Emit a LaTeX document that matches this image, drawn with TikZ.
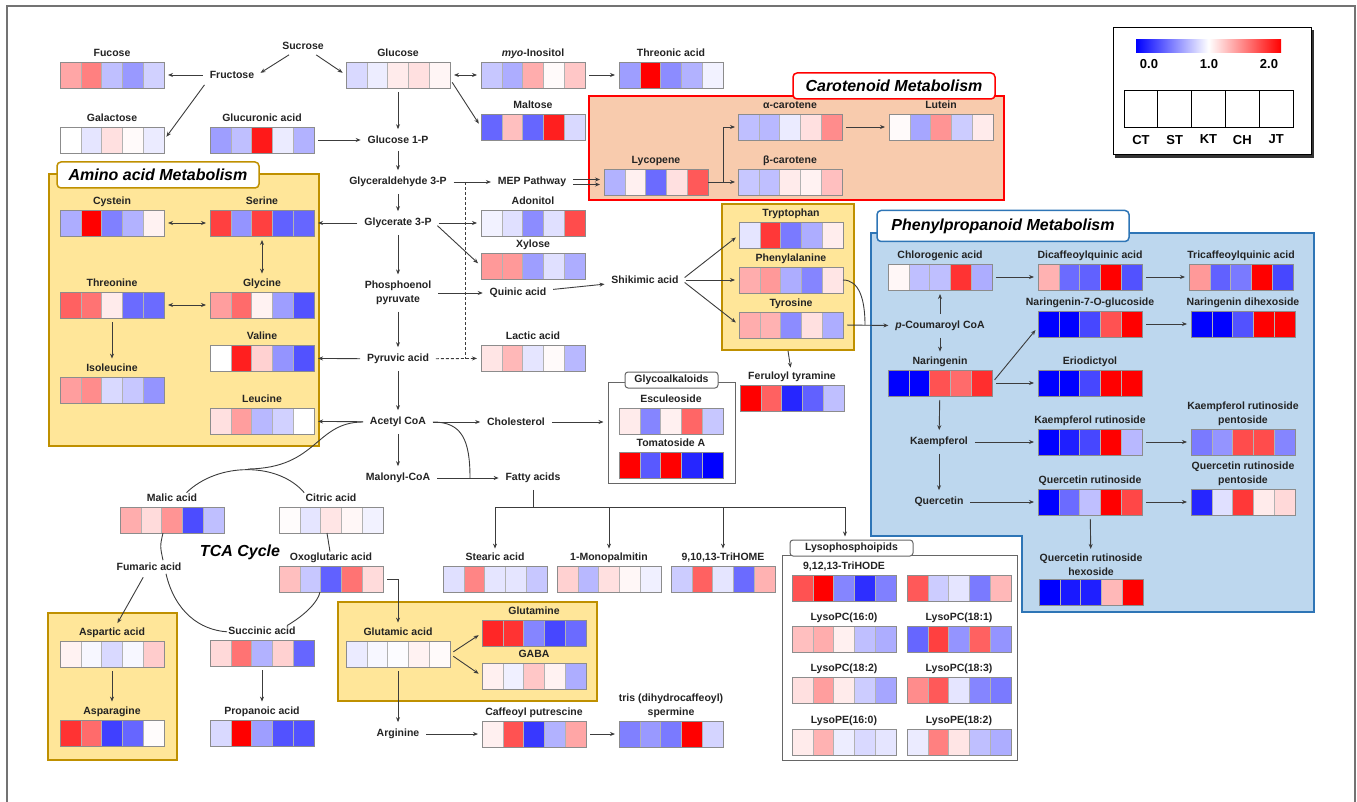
\documentclass[tikz,border=0pt]{standalone}
\usepackage{fontspec}
\setmainfont{Liberation Sans}
\usetikzlibrary{arrows.meta,positioning}

\definecolor{aagold}{RGB}{191,144,0}
\definecolor{aafill}{RGB}{255,230,153}
\definecolor{carfill}{RGB}{248,203,173}
\definecolor{phfill}{RGB}{189,215,238}
\definecolor{phline}{RGB}{46,117,182}
\definecolor{linegray}{RGB}{60,60,60}
\definecolor{txtgray}{RGB}{35,35,35}

\tikzset{
  hmbox/.style={rectangle, minimum width=104pt, minimum height=26pt, inner sep=0pt, outer sep=0pt},
  lbl/.style={font=\fontsize{10.5}{13}\selectfont\bfseries, text=txtgray, inner sep=1pt, text height=7.5pt, text depth=2pt},
  lbl2/.style={font=\fontsize{10.5}{13.5}\selectfont\bfseries, text=txtgray, inner sep=1pt, align=center},
  txt/.style={font=\fontsize{10.5}{13.5}\selectfont\bfseries, text=txtgray, inner sep=2.5pt, align=center},
  ar/.style={->, draw=linegray, shorten >=4pt, shorten <=4pt},
  br/.style={->, draw=linegray, shorten >=3pt},
  ln/.style={draw=linegray},
  aabox/.style={draw=aagold, fill=aafill, line width=1.6pt, inner sep=0pt},
  grbox/.style={draw=black!60, fill=white, line width=1pt, inner sep=0pt},
  tab/.style={fill=white, rounded corners=4pt, line width=1.5pt, minimum height=26pt, inner sep=2pt,
    text=black, font=\fontsize{16}{18}\selectfont\bfseries\itshape},
  grtab/.style={draw=black!60, fill=white, rounded corners=3pt, line width=1pt, minimum height=16pt,
    inner sep=1pt, text=txtgray, font=\fontsize{10.5}{12}\selectfont\bfseries},
  legtxt/.style={font=\fontsize{13}{15}\selectfont\bfseries, inner sep=1pt},
  legcell/.style={draw=black, line width=1pt, fill=white, minimum width=33.8pt, minimum height=37pt, inner sep=0pt}
}

% heat map of five samples: [label style]{name}{centre}{label}{colours}
\newcommand{\hm}[5][lbl]{%
  \node[hmbox] (#2) at (#3) {};
  \foreach \cl [count=\i from 0] in {#5}
    \filldraw[fill=\cl, draw=black!30, line width=0.6pt] ([xshift=\i*20.8pt]#2.south west) rectangle ++(20.8pt,26pt);
  \draw[black!45, line width=0.6pt] (#2.south west) rectangle (#2.north east);
  \node[#1, above=2pt of #2] (#2-t) {#4};
}

\begin{document}
\begin{tikzpicture}[x=1pt, y=-1pt, >={Stealth[length=5pt,width=4pt]}, line width=0.9pt]
  \useasboundingbox (0,0) rectangle (1357,802);
  \draw[black!55, line width=1.4pt] (7,803) -- (7,6) -- (1355,6) -- (1355,803);

  % group boxes
  \node[aabox, minimum width=270pt, minimum height=272pt] (amino) at (184,310) {};
  \node[draw=red, fill=carfill, line width=1.6pt, inner sep=0pt, minimum width=415pt, minimum height=104pt] (carot) at (796.5,148) {};
  \node[aabox, minimum width=132pt, minimum height=146pt] (arom) at (788,277) {};
  \node[aabox, minimum width=129pt, minimum height=147pt] (aspbox) at (112.5,686.5) {};
  \node[aabox, minimum width=259pt, minimum height=99pt] (glubox) at (467.5,651.5) {};
  \draw[draw=phline, fill=phfill, line width=1.6pt] (871,233) -- (1314,233) -- (1314,612)
    -- (1022,612) -- (1022,536) -- (871,536) -- cycle;
  \node[grbox, minimum width=127pt, minimum height=101pt] (glyco) at (671.5,432.5) {};
  \node[grbox, minimum width=235pt, minimum height=205pt] (lyso) at (899.5,657.5) {};

  \node[tab, draw=aagold, minimum width=202pt] (amino-t) at (158,175) {Amino acid Metabolism};
  \node[tab, draw=red, minimum width=202pt] (carot-t) at (894,86) {Carotenoid Metabolism};
  \node[tab, draw=phline, minimum width=252pt, minimum height=31pt] (phen-t) at (1003,226) {Phenylpropanoid Metabolism};
  \node[grtab, minimum width=93pt] (glyco-t) at (671.5,380) {Glycoalkaloids};
  \node[grtab, minimum width=123pt] (lyso-t) at (851.5,548) {Lysophosphoipids};
  \node[font=\fontsize{16}{18}\selectfont\bfseries\itshape, text=black] (tca) at (240,552) {TCA Cycle};

  % legend
  \fill[black!80] (1115,30) rectangle (1314,158);
  \node[draw=black, fill=white, line width=1pt, minimum width=198pt, minimum height=127pt, inner sep=0pt] (leg) at (1212,91.5) {};
  \shade[left color=blue, right color=red, middle color=white] (1136,40) rectangle (1281,53);
  \node[legtxt] (v0) at (1149,64) {0.0};
  \node[legtxt] (v1) at (1209,64) {1.0};
  \node[legtxt] (v2) at (1269,64) {2.0};
  \foreach \s [count=\i] in {CT,ST,KT,CH,JT} {
    \node[legcell] (k\i) at ({1124+33.8*\i-16.9},109.5) {};
    \node[legtxt, below=5pt of k\i] (k\i-t) {\s};
  }

  % sugars
  \node[txt] (suc) at (303,46) {Sucrose};
  \node[txt] (fru) at (232,75) {Fructose};
  \hm{fuc}{112,75}{Fucose}{red!35,red!50,blue!25,blue!40,blue!18}
  \hm{gal}{112,140}{Galactose}{white,blue!10,red!12,red!2,blue!8}
  \hm{glr}{262,140}{Glucuronic acid}{blue!38,blue!25,red!90,blue!8,blue!30}
  \hm{glc}{398,75}{Glucose}{blue!15,blue!7,red!8,red!12,red!4}
  \hm{ino}{533,75}{\textit{myo}-Inositol}{blue!22,blue!32,red!32,red!2,red!22}
  \hm{thr}{671,75}{Threonic acid}{blue!38,red!100,blue!45,blue!30,blue!5}
  \hm{mlt}{533,127}{Maltose}{blue!60,red!25,blue!60,red!88,blue!15}

  % main column
  \node[txt] (g1p) at (398,140) {Glucose 1-P};
  \node[txt] (gap) at (398,182) {Glyceraldehyde 3-P};
  \node[txt] (g3p) at (398,223) {Glycerate 3-P};
  \node[txt] (pep) at (398,293) {Phosphoenol\\pyruvate};
  \node[txt] (pyr) at (398,359) {Pyruvic acid};
  \node[txt] (aco) at (398,422) {Acetyl CoA};
  \node[txt] (mal) at (398,478) {Malonyl-CoA};
  \node[txt] (mep) at (532,182) {MEP Pathway};
  \node[txt] (qui) at (518,293) {Quinic acid};
  \node[txt] (shi) at (645,280) {Shikimic acid};
  \node[txt] (cho) at (516,422) {Cholesterol};
  \node[txt] (fat) at (533,478) {Fatty acids};
  \hm{ado}{533,223}{Adonitol}{blue!5,blue!12,blue!45,blue!12,red!70}
  \hm{xyl}{533,266}{Xylose}{red!40,red!40,blue!38,blue!12,blue!32}
  \hm{lac}{533,358}{Lactic acid}{red!10,red!28,blue!10,red!2,blue!28}

  % carotenoids
  \hm{lyc}{656,182}{Lycopene}{blue!30,red!6,blue!58,red!12,red!65}
  \hm{acr}{790,127}{α-carotene}{blue!25,blue!28,blue!8,red!12,red!45}
  \hm{bcr}{790,182}{β-carotene}{blue!22,blue!25,red!8,red!5,red!25}
  \hm{lut}{941,127}{Lutein}{red!2,blue!35,red!42,blue!20,red!8}

  % amino acids
  \hm{cys}{112,223}{Cystein}{blue!32,red!100,blue!50,blue!30,red!5}
  \hm{ser}{262,223}{Serine}{red!75,blue!42,red!75,blue!62,blue!60}
  \hm{thn}{112,305}{Threonine}{red!62,red!55,red!8,blue!58,blue!58}
  \hm{gly}{262,305}{Glycine}{red!38,red!58,red!5,blue!38,blue!68}
  \hm{ile}{112,390}{Isoleucine}{red!38,red!45,blue!15,blue!22,blue!42}
  \hm{val}{262,358}{Valine}{white,red!88,red!18,blue!42,blue!68}
  \hm{leu}{262,421}{Leucine}{red!12,red!38,blue!28,blue!18,white}

  % TCA cycle
  \hm{mlc}{172,520}{Malic acid}{red!32,red!14,red!42,blue!70,blue!25}
  \hm{cit}{331,520}{Citric acid}{red!1,blue!10,red!10,red!3,blue!5}
  \hm{oxo}{331,579}{Oxoglutaric acid}{red!25,blue!22,blue!62,red!55,red!14}
  \hm{sca}{262,653}{Succinic acid}{red!15,red!55,blue!30,red!18,blue!60}
  \hm{pro}{262,733}{Propanoic acid}{blue!15,red!100,blue!38,blue!68,blue!68}
  \node[txt] (fum) at (149,567) {Fumaric acid};
  \hm{asp}{112,654}{Aspartic acid}{red!5,blue!3,blue!15,blue!3,red!20}
  \hm{asn}{112,733}{Asparagine}{red!80,red!58,blue!75,blue!60,red!1}
  \hm{glu}{398,654}{Glutamic acid}{blue!8,blue!3,blue!1,red!5,red!2}
  \hm{gln}{534,633}{Glutamine}{red!85,red!80,blue!48,blue!72,blue!58}
  \hm{gab}{534,676}{GABA}{red!6,blue!6,red!22,red!5,blue!32}
  \node[txt] (arg) at (398,734) {Arginine};
  \hm{caf}{534,734}{Caffeoyl putrescine}{red!6,red!68,blue!78,blue!30,red!35}
  \hm[lbl2]{tri}{671,734}{tris (dihydrocaffeoyl)\\spermine}{blue!50,blue!40,blue!52,red!100,blue!17}

  % lipids and alkaloids
  \hm{ste}{495,579}{Stearic acid}{blue!12,red!48,blue!10,blue!10,blue!22}
  \hm{mpa}{609,579}{1-Monopalmitin}{red!18,blue!28,red!12,red!3,blue!6}
  \hm{trh}{723,579}{9,10,13-TriHOME}{blue!20,red!62,blue!10,blue!58,red!30}
  \hm{esc}{671,421}{Esculeoside}{red!8,blue!48,red!6,red!60,blue!22}
  \hm{tom}{671,465}{Tomatoside A}{red!100,blue!65,red!100,blue!85,blue!100}
  \hm{lp1}{844,588}{9,12,13-TriHODE}{red!68,red!100,blue!48,blue!82,blue!50}
  \hm{lp2}{959,588}{}{red!65,blue!20,blue!10,blue!52,red!28}
  \hm{lp3}{844,639}{LysoPC(16:0)}{red!25,red!32,red!6,blue!25,blue!32}
  \hm{lp4}{959,639}{LysoPC(18:1)}{blue!60,red!75,blue!42,red!62,blue!42}
  \hm{lp5}{844,690}{LysoPC(18:2)}{red!12,red!38,red!8,blue!20,blue!35}
  \hm{lp6}{959,690}{LysoPC(18:3)}{red!45,red!65,blue!10,blue!48,blue!52}
  \hm{lp7}{844,742}{LysoPE(16:0)}{red!8,red!30,blue!7,blue!15,blue!10}
  \hm{lp8}{959,742}{LysoPE(18:2)}{blue!8,red!50,red!10,blue!25,blue!32}

  % aromatic amino acids
  \hm{trp}{791,235}{Tryptophan}{blue!10,red!78,blue!52,blue!32,red!7}
  \hm{phe}{791,280}{Phenylalanine}{red!32,red!40,blue!32,blue!48,red!10}
  \hm{tyr}{791,325}{Tyrosine}{red!32,red!30,blue!45,red!12,blue!32}
  \hm{fer}{792,398}{Feruloyl tyramine}{red!100,red!62,blue!85,blue!62,blue!25}

  % phenylpropanoids
  \node[txt] (pco) at (940,326) {\textit{p}-Coumaroyl CoA};
  \node[txt] (kae) at (939,442) {Kaempferol};
  \node[txt] (que) at (939,502) {Quercetin};
  \hm{chl}{940,277}{Chlorogenic acid}{red!3,blue!25,blue!25,red!80,blue!32}
  \hm{nar}{940,383}{Naringenin}{blue!100,blue!100,red!68,red!58,red!82}
  \hm{dcq}{1090,277}{Dicaffeoylquinic acid}{red!30,blue!58,blue!62,red!100,blue!68}
  \hm{tcq}{1241,277}{Tricaffeoylquinic acid}{red!40,blue!62,blue!52,red!100,blue!72}
  \hm{n7g}{1090,324}{Naringenin-7-O-glucoside}{blue!100,blue!100,blue!72,red!68,red!100}
  \hm{ndh}{1243,324}{Naringenin dihexoside}{blue!100,blue!100,blue!68,red!100,red!100}
  \hm{eri}{1090,383}{Eriodictyol}{blue!100,blue!100,blue!72,red!100,red!100}
  \hm{kru}{1090,442}{Kaempferol rutinoside}{blue!100,blue!88,blue!72,red!100,blue!28}
  \hm[lbl2]{krp}{1243,442}{Kaempferol rutinoside\\pentoside}{blue!52,blue!42,red!70,red!70,blue!48}
  \hm{qru}{1090,502}{Quercetin rutinoside}{blue!100,blue!58,blue!25,red!100,red!72}
  \hm[lbl2]{qrp}{1243,502}{Quercetin rutinoside\\pentoside}{blue!85,blue!12,red!78,red!8,red!15}
  \hm[lbl2]{qrh}{1091,592}{Quercetin rutinoside\\hexoside}{blue!100,blue!90,blue!88,red!28,red!100}

  % connectors
  \draw[ar] (suc) -- (fru.east);
  \draw[ar] (suc) -- (glc.west);
  \draw[ar] (fru) -- (fuc);
  \draw[ar] (fru.south west) -- (gal.east);
  \draw[ar, <->] (glc) -- (ino);
  \draw[ar] ([yshift=-4pt]glc.east) -- (mlt.west);
  \draw[ar] (ino) -- (thr);
  \draw[ar] (glc) -- (g1p);
  \draw[ar] (glr) -- (g1p);
  \draw[ar] (g1p) -- (gap);
  \draw[ar] (gap) -- (g3p);
  \draw[ar] (g3p) -- (pep);
  \draw[ar] (pep) -- (pyr);
  \draw[ar] (pyr) -- (aco);
  \draw[ar] (aco) -- (mal);
  \draw[ar] (gap) -- (mep);
  \draw[ar] ([yshift=2.5pt]mep.east) -- ([yshift=2.5pt]lyc.west);
  \draw[ar] ([yshift=-2.5pt]mep.east) -- ([yshift=-2.5pt]lyc.west);
  \draw[br] (lyc) -- (bcr);
  \draw[br] (lyc.east) -- ++(15pt,0) |- (acr.west);
  \draw[ar] (acr) -- (lut);
  \draw[ar] (g3p) -- (ser);
  \draw[ar] (g3p) -- (ado);
  \draw[ar] (g3p.east) -- (xyl.west);
  \draw[ar] (pep) -- (qui);
  \draw[ar] (qui) -- (shi);
  \draw[ar, densely dashed] (pyr) -- (lac);
  \coordinate (dj) at (465,182);
  \draw[ln, densely dashed] (dj) -- (dj |- pyr);
  \draw[ar] (pyr) -- (val);
  \draw[ar] (aco) -- (leu);
  \draw[ar, <->] (cys) -- (ser);
  \draw[ar, <->] (ser) -- (gly-t);
  \draw[ar, <->] (thn) -- (gly);
  \draw[ar] (thn) -- (ile-t);
  \draw[ar] (shi.east) -- (trp.west);
  \draw[ar] (shi.east) -- (phe.west);
  \draw[ar] (shi.east) -- (tyr.west);
  \coordinate (cj) at (865,325);
  \draw[ln] (phe.east) .. controls +(16pt,0) and +(0,26pt) .. (cj);
  \draw[ar] (tyr.east) -- (pco);
  \draw[br] (arom.south) -- (fer-t);
  \draw[ar] (aco) -- (cho);
  \draw[ar] (cho) -- (cho -| glyco.west);
  \draw[ar] (mal) -- (fat);
  \coordinate (fj) at (470,478);
  \draw[ln, shorten <=4pt] (aco.east) .. controls (462,422) and (470,440) .. (fj);
  \coordinate (fb) at (533,507);
  \coordinate (fr) at (845,507);
  \draw[ln, shorten <=4pt] (fat) -- (fb);
  \draw[ln] (ste |- fb) -- (fr);
  \draw[br] (ste |- fb) -- (ste-t);
  \draw[br] (mpa |- fb) -- (mpa-t);
  \draw[br] (trh |- fb) -- (trh-t);
  \draw[br] (fr) -- (fr |- lyso-t.north);

  % TCA cycle
  \coordinate (tt) at (248,469);
  \draw[ln] ([xshift=-12pt]mlc-t.north east) .. controls (218,462) and (278,462) .. (cit-t.north west);
  \draw[ln, shorten <=4pt] (aco.west) .. controls (315,422) and (318,468) .. (tt);
  \draw[ln] ([xshift=-9pt]mlc.south) .. controls (160,546) .. ([xshift=14pt]fum.north);
  \draw[ln] ([xshift=17pt]fum.south) .. controls (175,612) and (200,630) .. (sca-t.west);
  \draw[ln] ([xshift=-10pt]sca-t.north east) .. controls (305,615) and (318,602) .. ([xshift=-11pt]oxo.south);
  \draw[ln] ([xshift=-4pt]cit.south) -- (oxo-t);
  \draw[ar] (fum) -- (asp-t);
  \draw[ar] (asp) -- (asn-t);
  \draw[ar] (sca) -- (pro-t);
  \draw[ar] (oxo.east) -| (glu-t);
  \draw[ar] (glu.east) -- (gln.west);
  \draw[ar] (glu.east) -- (gab.west);
  \draw[ar] (glu) -- (arg);
  \draw[ar] (arg) -- (caf);
  \draw[ar] (caf) -- (tri);

  % phenylpropanoid pathway
  \draw[ar] (pco) -- (chl);
  \draw[ar] (pco) -- (nar-t);
  \draw[ar] (chl) -- (dcq);
  \draw[ar] (dcq) -- (tcq);
  \draw[ar] (nar.east) -- ([yshift=-3pt]n7g.west);
  \draw[ar] (nar) -- (eri);
  \draw[ar] (n7g) -- (ndh);
  \draw[ar] (nar) -- (kae);
  \draw[ar] (kae) -- (que);
  \draw[ar] (kae) -- (kru);
  \draw[ar] (que) -- (qru);
  \draw[ar] (kru) -- (krp);
  \draw[ar] (qru) -- (qrp);
  \draw[ar] (qru) -- (qrh-t);
\end{tikzpicture}
\end{document}
